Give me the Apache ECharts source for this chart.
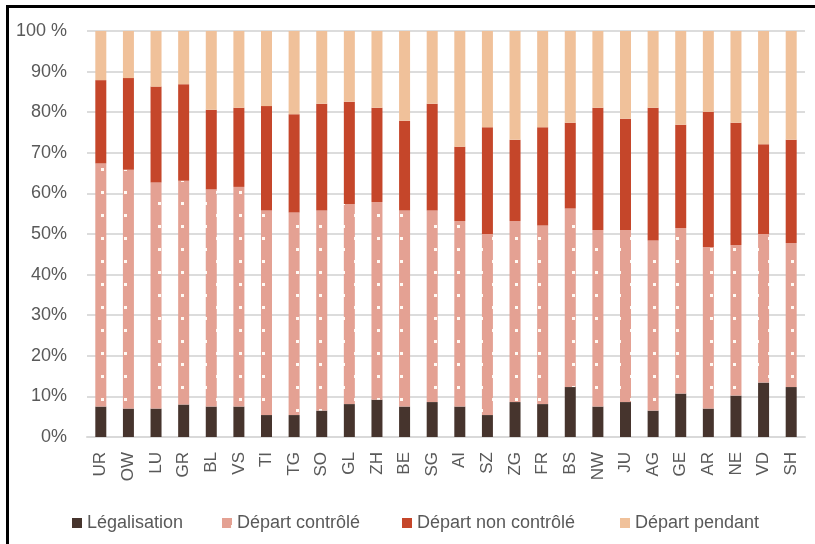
<!DOCTYPE html>
<html>
<head>
<meta charset="utf-8">
<script src="https://cdn.jsdelivr.net/npm/echarts@6/dist/echarts.min.js"></script>
<style>
  html, body { margin: 0; padding: 0; background: #ffffff; }
  #chart { width: 815px; height: 544px; }
</style>
</head>
<body>
<div id="chart"></div>
<script>
// Cantons and the share (%) of each outcome
const cantons = ['UR','OW','LU','GR','BL','VS','TI','TG','SO','GL','ZH','BE','SG',
                 'AI','SZ','ZG','FR','BS','NW','JU','AG','GE','AR','NE','VD','SH'];
const legalisation      = [7.5, 7.0, 7.0, 8.0, 7.5, 7.5, 5.4, 5.4, 6.5, 8.1, 9.2, 7.5, 8.6,
                           7.5, 5.4, 8.6, 8.1, 12.3, 7.5, 8.6, 6.5, 10.7, 7.0, 10.2, 13.4, 12.3];
const departControle    = [59.9, 58.8, 55.7, 55.1, 53.5, 54.1, 50.4, 49.9, 49.3, 49.3, 48.7, 48.3, 47.2,
                           45.7, 44.6, 44.6, 44.0, 44.0, 43.5, 42.4, 41.9, 40.8, 39.8, 37.1, 36.6, 35.5];
const departNonControle = [20.5, 22.6, 23.6, 23.8, 19.6, 19.5, 25.7, 24.2, 26.3, 25.2, 23.2, 22.1, 26.3,
                           18.3, 26.3, 20.0, 24.2, 21.1, 30.1, 27.4, 32.7, 25.4, 33.3, 30.1, 22.1, 25.4];
const departPendant     = [12.1, 11.6, 13.7, 13.1, 19.4, 18.9, 18.5, 20.5, 17.9, 17.4, 18.9, 22.1, 17.9,
                           28.5, 23.7, 26.8, 23.7, 22.6, 18.9, 21.6, 18.9, 23.1, 19.9, 22.6, 27.9, 26.8];
const seriesNames = ['Légalisation', 'Départ contrôlé', 'Départ non contrôlé', 'Départ pendant'];
const yTicks = { min: 0, max: 100, step: 10 };

const FONT = "'Liberation Sans', Arial, sans-serif";
const TEXT = '#595959';

// Salmon fill with a staggered lattice of small light dots
function dottedFill() {
  const c = document.createElement('canvas');
  c.width = 23; c.height = 23;
  const g = c.getContext('2d');
  g.fillStyle = '#e4a193';
  g.fillRect(0, 0, 23, 23);
  g.fillStyle = '#fffaf4';
  g.fillRect(9, 7, 3, 3);
  g.fillRect(20, 18, 3, 3);
  return { image: c, repeat: 'repeat' };
}

const colors = ['#46342d', dottedFill(), '#c5462a', '#f0c19a'];
const values = [legalisation, departControle, departNonControle, departPendant];
const legendLefts = [72, 222, 402, 620];

const chart = echarts.init(document.getElementById('chart'), null, { renderer: 'canvas' });

chart.setOption({
  animation: false,
  backgroundColor: '#ffffff',
  grid: { left: 87, right: 10, top: 31, bottom: 107, containLabel: false },
  xAxis: {
    type: 'category',
    data: cantons,
    axisLine: { show: true, lineStyle: { color: '#d9d9d9', width: 2 } },
    axisTick: { show: false },
    axisLabel: {
      interval: 0, rotate: 90, margin: 15,
      color: TEXT, fontFamily: FONT, fontSize: 17
    }
  },
  yAxis: {
    type: 'value',
    min: yTicks.min, max: yTicks.max, interval: yTicks.step,
    axisLine: { show: false },
    axisTick: { show: false },
    splitLine: { lineStyle: { color: '#dcdcdc', width: 2 } },
    axisLabel: {
      margin: 20, color: TEXT, fontFamily: FONT, fontSize: 18,
      formatter: v => (v === 100 ? '100 %' : v + '%')
    }
  },
  legend: seriesNames.map((name, i) => ({
    data: [{ name, icon: 'rect' }],
    left: legendLefts[i], top: 514, padding: 0,
    itemWidth: 10, itemHeight: 10,
    textStyle: { color: TEXT, fontFamily: FONT, fontSize: 18 },
    selectedMode: false
  })),
  series: seriesNames.map((name, i) => ({
    name,
    type: 'bar',
    stack: 'total',
    barWidth: 11,
    data: values[i],
    itemStyle: { color: colors[i] },
    emphasis: { disabled: true }
  })),
  graphic: [
    { type: 'line', shape: { x1: 7.5, y1: 5, x2: 7.5, y2: 544 }, style: { stroke: '#000', lineWidth: 3 } },
    { type: 'line', shape: { x1: 6, y1: 6.5, x2: 815, y2: 6.5 }, style: { stroke: '#000', lineWidth: 3 } }
  ]
});
</script>
</body>
</html>
